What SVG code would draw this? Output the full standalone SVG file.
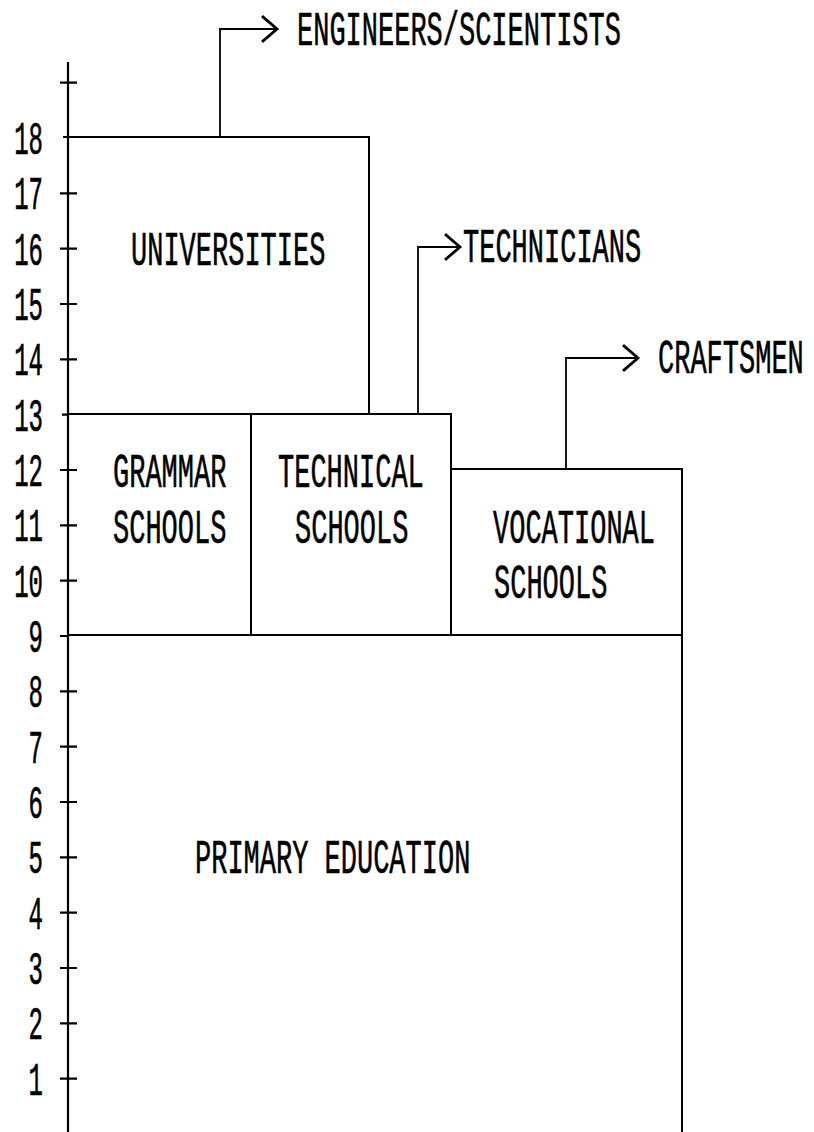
<svg xmlns="http://www.w3.org/2000/svg" width="814" height="1132" viewBox="0 0 814 1132">
  <style>
    .box { fill: none; stroke: #000; stroke-width: 2; }
    .axis { fill: none; stroke: #000; stroke-width: 2.2; }
    .link { fill: none; stroke: #000; stroke-width: 1.8; }
    .lbl { font-family: "Liberation Mono", "DejaVu Sans Mono", monospace; font-size: 27px; fill: #000; stroke: #000; stroke-width: 0.35; }
    .num { font-family: "Liberation Mono", "DejaVu Sans Mono", monospace; font-size: 24px; fill: #000; stroke: #000; stroke-width: 0.35; text-anchor: end; }
  </style>
  <defs>
    <marker id="chevron" markerUnits="userSpaceOnUse" markerWidth="20" markerHeight="30" viewBox="-16 -14 18 28" refX="0" refY="0" orient="auto">
      <path d="M -14 -12 L 0 0 L -14 12" fill="none" stroke="#000" stroke-width="2.6"/>
    </marker>
  </defs>
  <rect width="814" height="1132" fill="#fff"/>

  <!-- age axis with one tick per year -->
  <g id="age-axis">
    <path class="axis" d="M68 62 V1132"/>
    <path class="axis" d="M60 82.7 H77 M60 193.3 H77 M60 248.7 H77 M60 304 H77 M60 359.3 H77 M60 470 H77 M60 525.3 H77 M60 580.7 H77 M60 691.3 H77 M60 746.7 H77 M60 802 H77 M60 857.3 H77 M60 912.7 H77 M60 968 H77 M60 1023.3 H77 M60 1078.7 H77 M63 137 H68 M62 414.7 H68 M60 636 H68"/>
    <g class="num">
      <text transform="translate(43,154) scale(1,1.95)">18</text>
      <text transform="translate(43,209.3) scale(1,1.95)">17</text>
      <text transform="translate(43,264.7) scale(1,1.95)">16</text>
      <text transform="translate(43,320) scale(1,1.95)">15</text>
      <text transform="translate(43,375.3) scale(1,1.95)">14</text>
      <text transform="translate(43,430.7) scale(1,1.95)">13</text>
      <text transform="translate(43,486) scale(1,1.95)">12</text>
      <text transform="translate(43,541.3) scale(1,1.95)">11</text>
      <text transform="translate(43,596.7) scale(1,1.95)">10</text>
      <text transform="translate(43,652) scale(1,1.95)">9</text>
      <text transform="translate(43,707.3) scale(1,1.95)">8</text>
      <text transform="translate(43,762.7) scale(1,1.95)">7</text>
      <text transform="translate(43,818) scale(1,1.95)">6</text>
      <text transform="translate(43,873.3) scale(1,1.95)">5</text>
      <text transform="translate(43,928.7) scale(1,1.95)">4</text>
      <text transform="translate(43,984) scale(1,1.95)">3</text>
      <text transform="translate(43,1039.3) scale(1,1.95)">2</text>
      <text transform="translate(43,1094.7) scale(1,1.95)">1</text>
    </g>
  </g>

  <!-- connectors from each school to its graduates -->
  <g id="connectors">
    <path class="link" d="M220 137 V29 H277" marker-end="url(#chevron)"/>
    <path class="link" d="M418 414 V247 H460" marker-end="url(#chevron)"/>
    <path class="link" d="M566 469 V358 H638" marker-end="url(#chevron)"/>
  </g>

  <g id="primary-education">
    <rect class="box" x="68" y="635" width="614" height="520"/>
    <text class="lbl" transform="translate(195,873) scale(1,1.75)">PRIMARY EDUCATION</text>
  </g>

  <g id="grammar-schools">
    <rect class="box" x="68" y="414" width="183" height="221"/>
    <text class="lbl" transform="translate(113,487) scale(1,1.75)">GRAMMAR</text>
    <text class="lbl" transform="translate(113,543) scale(1,1.75)">SCHOOLS</text>
  </g>

  <g id="technical-schools">
    <rect class="box" x="251" y="414" width="200" height="221"/>
    <text class="lbl" transform="translate(278,487) scale(1,1.75)">TECHNICAL</text>
    <text class="lbl" transform="translate(295,543) scale(1,1.75)">SCHOOLS</text>
  </g>

  <g id="vocational-schools">
    <rect class="box" x="451" y="469" width="231" height="166"/>
    <text class="lbl" transform="translate(493,543) scale(1,1.75)">VOCATIONAL</text>
    <text class="lbl" transform="translate(494,598) scale(1,1.75)">SCHOOLS</text>
  </g>

  <g id="universities">
    <rect class="box" x="68" y="137" width="301" height="277"/>
    <text class="lbl" transform="translate(131,265) scale(1,1.75)">UNIVERSITIES</text>
  </g>

  <g id="engineers-scientists">
    <text class="lbl" transform="translate(297,45) scale(1,1.75)">ENGINEERS/SCIENTISTS</text>
  </g>
  <g id="technicians">
    <text class="lbl" transform="translate(463,262) scale(1,1.75)">TECHNICIANS</text>
  </g>
  <g id="craftsmen">
    <text class="lbl" transform="translate(658,373) scale(1,1.75)">CRAFTSMEN</text>
  </g>
</svg>
